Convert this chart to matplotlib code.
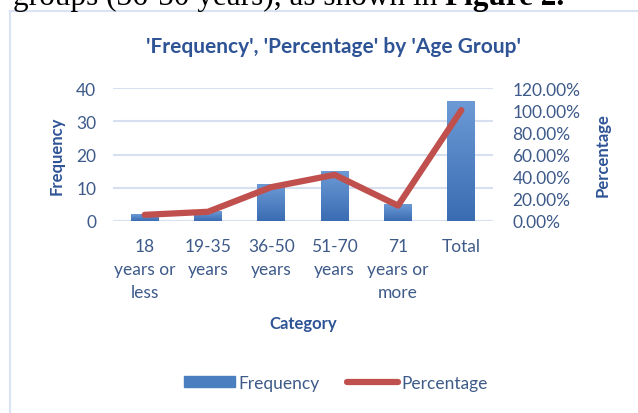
import numpy as np
import matplotlib.pyplot as plt
from matplotlib.lines import Line2D
from matplotlib.ticker import FuncFormatter
from matplotlib.colors import LinearSegmentedColormap

# Datos
categorias = ['18\nyears or\nless', '19-35\nyears', '36-50\nyears', '51-70\nyears',
              '71\nyears or\nmore', 'Total']
frecuencia = [2, 3, 11, 15, 5, 36]
porcentaje = [0.0556, 0.0833, 0.3056, 0.4167, 0.1389, 1.0]

TITULO = "'Frequency', 'Percentage' by 'Age Group'"
FUENTE = ['Lato', 'DejaVu Sans']
AZUL_TEXTO = '#3D5A89'
AZUL_TITULO = '#2F5496'
ROJO = '#C0504D'
GRILLA = '#D6E0F0'

plt.rcParams['font.family'] = FUENTE

fig = plt.figure(figsize=(6.38, 4.14), dpi=100)
W, H = 638, 414

# Texto del documento cortado arriba
t1 = fig.text(13 / W, 1 - 5 / H, 'groups (36-50 years), as shown in ', family='Liberation Serif',
              fontsize=22.5, color='black', va='baseline', ha='left')
fig.canvas.draw()
bb = t1.get_window_extent()
fig.text(bb.x1 / W, 1 - 5 / H, 'Figure 2.', family='Liberation Serif', fontsize=22.5,
         fontweight='bold', color='black', va='baseline', ha='left')

# Borde del grafico
fig.add_artist(Line2D([10 / W, 10 / W], [0, 1 - 12 / H], color='#DAE3F3', lw=1.5))
fig.add_artist(Line2D([10 / W, 1], [1 - 12 / H, 1 - 12 / H], color='#DAE3F3', lw=1.5))

ax = fig.add_axes([113 / W, 1 - 222 / H, (493 - 113) / W, (222 - 89) / H])
x = np.arange(len(categorias))

barras = ax.bar(x, frecuencia, width=0.44, color='#4A7EC0', zorder=2)
cmap = LinearSegmentedColormap.from_list('g', ['#3A6CB2', '#6C9AD6'])
grad = np.linspace(0, 1, 256).reshape(-1, 1)
for b in barras:
    x0, y0 = b.get_x(), b.get_y()
    im = ax.imshow(grad, cmap=cmap, origin='lower', aspect='auto',
                   extent=[x0, x0 + b.get_width(), y0, y0 + b.get_height()], zorder=2)
    im.set_clip_path(b)

ax.set_xlim(-0.5, len(categorias) - 0.5)
ax.set_ylim(0, 40)
ax.set_yticks([0, 10, 20, 30, 40])
ax.grid(axis='y', color=GRILLA, lw=1.5, zorder=0)
ax.set_axisbelow(True)
for s in ax.spines.values():
    s.set_visible(False)
ax.tick_params(axis='both', length=0, colors=AZUL_TEXTO, labelsize=12.5)
ax.tick_params(axis='y', pad=12)
ax.set_xticks(x)
ax.set_xticklabels(categorias, linespacing=1.55)
ax.tick_params(axis='x', pad=12)
ax.set_ylabel('Frequency', fontsize=12, fontweight='bold', color=AZUL_TITULO, labelpad=8)
ax.set_xlabel('Category', fontsize=12, fontweight='bold', color=AZUL_TITULO, labelpad=11)

ax2 = ax.twinx()
ax2.plot(x, porcentaje, color=ROJO, lw=4.5, solid_capstyle='round', solid_joinstyle='round', zorder=3)
ax2.set_ylim(0, 1.2)
ax2.set_yticks(np.arange(0, 1.21, 0.2))
ax2.yaxis.set_major_formatter(FuncFormatter(lambda v, p: f'{v * 100:.2f}%'))
for s in ax2.spines.values():
    s.set_visible(False)
ax2.tick_params(axis='y', length=0, colors=AZUL_TEXTO, labelsize=12.5, pad=14)
ax2.set_ylabel('Percentage', fontsize=12, fontweight='bold', color=AZUL_TITULO, labelpad=10)

fig.text(333 / W, 1 - 47 / H, TITULO, fontsize=15, fontweight='bold', color=AZUL_TITULO,
         ha='center', va='center')

# Leyenda
h1 = plt.Rectangle((0, 0), 1, 1, color='#4A7EC0')
h2 = Line2D([0], [0], color=ROJO, lw=4.5, solid_capstyle='round')
fig.legend([h1, h2], ['Frequency', 'Percentage'], loc='center', bbox_to_anchor=(336 / W, 1 - 384 / H),
           ncol=2, frameon=False, fontsize=12.5, labelcolor=AZUL_TEXTO, handlelength=2.9,
           handleheight=0.6, handletextpad=0.2, columnspacing=1.6)

fig.savefig('out.png', dpi=100)
